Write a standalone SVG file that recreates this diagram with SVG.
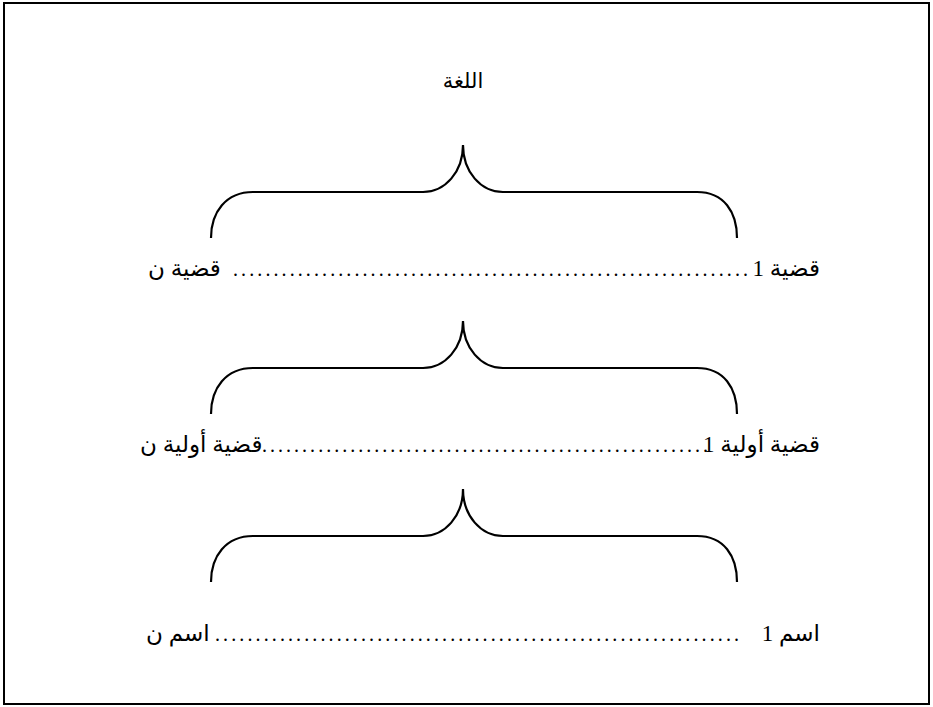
<svg xmlns="http://www.w3.org/2000/svg" width="933" height="707" viewBox="0 0 933 707">
  <style>
    .frame { fill: #ffffff; stroke: #000000; stroke-width: 2; }
    .brace { fill: none; stroke: #000000; stroke-width: 2.2; stroke-linecap: butt; }
    .ttl { font-family: "Liberation Serif", "DejaVu Sans", serif; font-size: 21px; fill: #000000; }
    .lbl { font-family: "Liberation Serif", "DejaVu Sans", serif; font-size: 23px; fill: #000000; }
    .dots { font-family: "Liberation Serif", serif; font-size: 20px; fill: #000000; }
  </style>
  <defs>
    <path id="brace" class="brace" d="M211,93 C211,67 226,47 253,47 L423,47 C445,47 463,27 463,0 C463,27 481,47 503,47 L697,47 C724,47 737,67 737,93"/>
  </defs>
  <rect class="frame" x="4" y="3" width="925" height="701"/>

  <g id="title">
    <text class="ttl" x="463" y="88" text-anchor="middle">اللغة</text>
  </g>

  <g id="connectors">
    <use href="#brace" transform="translate(0,145)"/>
    <use href="#brace" transform="translate(0,321)"/>
    <use href="#brace" transform="translate(0,489)"/>
  </g>

  <g id="row1">
    <text class="lbl" x="820" y="276" text-anchor="end">قضية 1</text>
    <text class="dots" x="233" y="276" textLength="515" lengthAdjust="spacing">................................................................</text>
    <text class="lbl" x="148" y="276" text-anchor="start">قضية ن</text>
  </g>

  <g id="row2">
    <text class="lbl" x="820" y="452" text-anchor="end">قضية أولية 1</text>
    <text class="dots" x="262" y="452" textLength="446" lengthAdjust="spacing">........................................................</text>
    <text class="lbl" x="140" y="452" text-anchor="start">قضية أولية ن</text>
  </g>

  <g id="row3">
    <text class="lbl" x="820" y="641" text-anchor="end">اسم 1</text>
    <text class="dots" x="215" y="641" textLength="524" lengthAdjust="spacing">.................................................................</text>
    <text class="lbl" x="146" y="641" text-anchor="start">اسم ن</text>
  </g>
</svg>
